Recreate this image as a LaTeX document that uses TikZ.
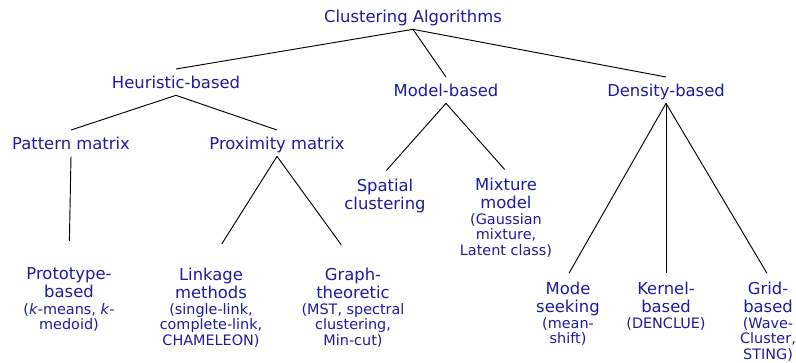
\documentclass[tikz,border=0pt]{standalone}
\usepackage{fontspec}
\setmainfont{DejaVu Sans}
\usepackage{tikz}
\usetikzlibrary{positioning}
\definecolor{navy}{HTML}{1C1CA0}
\newcommand\catfont{\fontsize{12.3}{13.4}\selectfont}
\newcommand\notefont{\fontsize{10.8}{11.6}\selectfont}

\tikzset{
  cat/.style={font=\catfont,text=navy,inner sep=5pt,align=center,anchor=north},
  inner/.style={cat,text depth=0pt},
  note/.style={font=\notefont,text=navy,inner sep=0pt,align=center,anchor=north},
  branch/.style={draw=black,line width=0.7pt},
  leaf/.style={shorten >=1.5pt},
  low/.style={shorten >=15pt}
}

\begin{document}
\begin{tikzpicture}[x=0.75pt,y=-0.75pt]
  \useasboundingbox (0,0) rectangle (796,362);

  % inner levels
  \node[inner] (root)    at (413,3)   {Clustering Algorithms};
  \node[inner] (heur)    at (176,69)  {Heuristic-based};
  \node[inner] (model)   at (446,77)  {Model-based};
  \node[inner] (dens)    at (666,77)  {Density-based};
  \node[inner] (pattern) at (71,130)  {Pattern matrix};
  \node[inner] (prox)    at (277,130) {Proximity matrix};

  % leaves and their examples
  \foreach \nm/\px/\py/\hd/\dt in {
      proto/69/261/{Prototype-\\based}/{(\textit{k}-means, \textit{k}-\\medoid)},
      link/211/261/{Linkage\\methods}/{(single-link,\\complete-link,\\CHAMELEON)},
      graph/353/261/{Graph-\\theoretic}/{(MST, spectral\\clustering,\\Min-cut)},
      spatial/385/172/{Spatial\\clustering}/{},
      mix/506/171/{Mixture\\model}/{(Gaussian\\mixture,\\Latent class)},
      mode/568/275/{Mode\\seeking}/{(mean-\\shift)},
      kernel/666/275/{Kernel-\\based}/{(DENCLUE)},
      grid/768/275/{Grid-\\based}/{(Wave-\\Cluster,\\STING)}} {
    \node[cat] (\nm) at (\px,\py) {\hd};
    \node[note] (\nm-ex) at (\px,\py+42) {\dt};
  }

  \draw[branch] (root.south) -- (heur.north);
  \draw[branch] (root.south) -- (model.north);
  \draw[branch] (root.south) -- (dens.north);
  \draw[branch] (heur.south) -- (pattern.north);
  \draw[branch] (heur.south) -- (prox.north);
  \draw[branch,low] (pattern.south) -- (proto.north);
  \draw[branch,low] (prox.south) -- (link.north);
  \draw[branch,low] (prox.south) -- (graph.north);
  \draw[branch,leaf] (model.south) -- (spatial.north);
  \draw[branch,leaf] (model.south) -- (mix.north);
  \draw[branch,leaf] (dens.south) -- (mode.north);
  \draw[branch,leaf] (dens.south) -- (kernel.north);
  \draw[branch,leaf] (dens.south) -- (grid.north);
\end{tikzpicture}
\end{document}
